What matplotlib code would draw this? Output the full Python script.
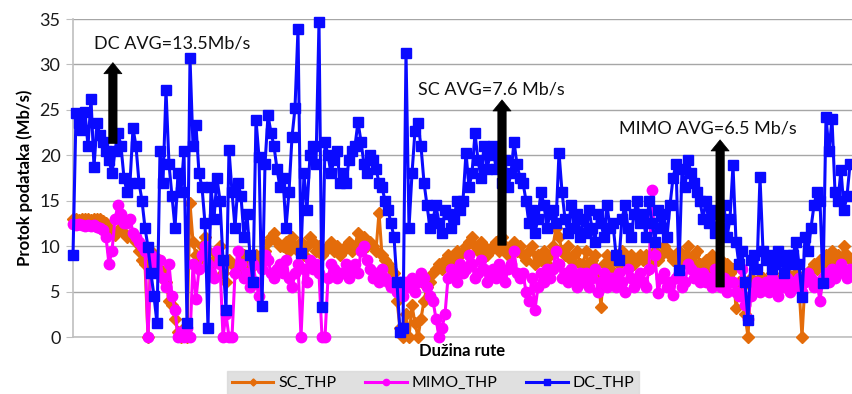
import matplotlib
matplotlib.use("Agg")
import matplotlib.pyplot as plt
import numpy as np

plt.rcParams['font.family'] = ['Lato', 'DejaVu Sans']

dc_thp = [
    9.0, 24.6, 23.5, 22.8, 24.8, 21.0, 26.2, 18.7, 23.5, 22.2,
    21.5, 20.5, 19.5, 18.0, 20.5, 22.5, 21.0, 17.5, 16.0, 17.0,
    23.0, 21.0, 17.0, 15.0, 12.0, 9.9, 7.0, 4.5, 1.5, 20.5,
    17.0, 27.2, 19.0, 15.5, 12.0, 18.0, 16.0, 20.5, 1.5, 30.7,
    21.0, 23.3, 18.0, 16.5, 12.5, 1.0, 16.5, 13.0, 17.5, 15.0,
    8.5, 3.0, 20.6, 16.0, 12.0, 17.0, 15.5, 11.0, 13.5, 9.0,
    6.0, 23.9, 19.8, 3.4, 19.0, 24.4, 22.5, 21.0, 18.5, 16.5,
    17.5, 12.0, 16.0, 22.0, 25.2, 33.9, 9.3, 18.0, 14.0, 20.0,
    21.0, 19.0, 34.7, 3.3, 21.5, 20.0, 18.0, 19.5, 20.5, 17.0,
    18.0, 17.0, 19.5, 20.5, 21.0, 23.7, 21.5, 19.0, 18.0, 20.0,
    19.5, 18.5, 17.0, 16.5, 15.0, 14.0, 12.5, 11.0, 6.0, 0.5,
    1.0, 31.3, 12.0, 18.0, 22.7, 23.5, 21.0, 17.0, 14.5, 12.0,
    13.0, 14.5, 12.5, 11.5, 14.0, 13.5, 12.0, 13.0, 15.0, 14.0,
    15.0, 20.3, 16.5, 18.0, 22.4, 19.5, 17.5, 21.0, 18.5, 20.0,
    21.0, 18.5, 20.0, 17.0, 19.5, 16.5, 18.0, 21.5, 19.0, 17.5,
    17.0, 15.0, 12.5, 14.0, 11.5, 13.0, 16.0, 14.5, 12.0, 13.5,
    14.0, 12.5, 20.3, 16.0, 13.0, 11.5, 14.5, 12.0, 13.5, 11.0,
    13.0, 11.5, 14.0, 12.0, 10.5, 13.5, 12.5, 11.0, 14.5, 12.0,
    12.5, 9.0, 8.5, 13.0, 14.5, 12.0, 11.0, 13.5, 15.0, 12.5,
    13.5, 11.0, 15.0, 12.5, 10.5, 14.0, 12.0, 13.5, 11.0, 14.5,
    17.5, 19.0, 7.4, 18.5, 16.5, 19.5, 18.0, 17.0, 16.0, 15.0,
    13.0, 15.0, 12.5, 14.0, 11.5, 13.5, 12.0, 14.5, 11.0, 13.0,
    18.9, 10.5, 8.0, 9.5, 6.0, 1.9, 8.5, 9.0, 7.5, 17.6,
    9.5, 8.5, 9.0, 7.5, 8.0, 9.5, 8.5, 7.0, 9.0, 8.0,
    9.0, 10.5, 8.0, 4.4, 11.0, 9.5, 12.0, 14.5, 16.0, 15.0,
    5.9, 24.2, 20.5, 24.0, 16.0, 15.0, 18.4, 14.0, 15.5, 19.0,
]

mimo_thp = [
    12.4, 12.3, 12.4, 12.3, 12.2, 12.3, 12.2, 12.3, 12.1, 12.0,
    11.8, 11.0, 8.0, 9.5, 13.0, 14.5, 13.5, 12.5, 12.5, 13.0,
    11.5, 11.0, 10.5, 10.0, 9.5, 0.0, 9.0, 8.0, 7.0, 8.5,
    6.5, 5.5, 8.0, 4.5, 3.0, 0.0, 0.5, 0.0, 1.0, 0.0,
    8.0, 4.2, 7.5, 9.0, 10.0, 8.0, 7.0, 6.5, 9.5, 8.0,
    0.0, 2.5, 0.0, 0.0, 7.0, 9.5, 8.0, 6.5, 7.0, 5.5,
    8.0, 6.0, 4.5, 7.5, 9.0, 8.5, 7.0, 6.5, 7.5, 8.0,
    7.0, 8.5, 6.5, 5.5, 7.0, 8.0, 0.0, 7.5, 6.0, 8.5,
    7.5, 8.0, 7.0, 0.0, 0.0, 6.5, 8.0, 7.5, 6.5, 7.0,
    7.0, 8.0, 6.5, 7.5, 8.0, 7.0, 9.5, 10.0, 8.5, 7.5,
    6.5, 7.0, 6.0, 7.5, 6.5, 6.0, 5.5, 6.0, 5.0, 6.0,
    4.5, 6.0, 5.5, 6.5, 5.0, 6.0, 7.0, 6.5, 5.5, 4.5,
    4.0, 2.0, 0.0, 1.0, 2.5, 6.5, 7.5, 7.0, 6.0, 8.0,
    7.0, 7.5, 9.0, 8.0, 6.5, 7.0, 8.5, 7.5, 6.0, 7.0,
    7.5, 6.5, 8.0, 7.0, 6.0, 7.5, 8.0, 9.5, 7.0, 6.5,
    7.0, 5.0, 4.0, 6.5, 3.0, 5.5, 7.0, 6.0, 7.5, 6.5,
    7.5, 9.5, 8.0, 6.5, 7.0, 6.0, 7.5, 6.5, 5.5, 7.0,
    6.0, 7.0, 5.5, 6.5, 7.5, 5.0, 6.0, 7.0, 5.5, 6.5,
    6.5, 5.5, 7.0, 6.0, 5.0, 7.5, 6.5, 5.5, 6.0, 7.0,
    6.0, 5.5, 7.5, 16.2, 9.0, 4.8, 6.5, 7.0, 5.5, 6.0,
    4.6, 6.5, 7.0, 5.5, 6.0, 8.0, 7.5, 6.5, 7.0, 6.0,
    7.0, 6.0, 6.5, 5.5, 7.5, 6.0, 5.5, 6.5, 5.0, 6.0,
    6.0, 5.0, 4.5, 7.5, 3.5, 2.0, 4.5, 5.5, 6.0, 5.0,
    5.5, 6.0, 5.0, 6.5, 5.5, 4.5, 6.0, 5.5, 6.5, 5.0,
    6.0, 5.5, 6.5, 5.0, 6.0, 7.0, 6.5, 5.5, 6.0, 4.0,
    6.5, 7.0, 6.0, 7.5, 6.5, 7.0, 8.0, 7.0, 6.5, 7.5,
]

sc_thp = [
    13.0, 13.0, 12.9, 13.0, 13.0, 13.0, 12.9, 13.0, 13.0, 13.0,
    12.8, 12.5, 12.0, 11.5, 11.2, 11.8, 12.0, 11.5, 11.0, 11.2,
    11.0, 10.5, 9.5, 8.5, 8.0, 0.0, 9.5, 9.0, 8.5, 7.5,
    7.0, 6.0, 4.0, 3.5, 2.0, 0.5, 0.0, 1.0, 0.0, 14.7,
    10.5, 9.0, 8.5, 10.0, 11.0, 9.5, 8.0, 8.5, 9.0, 10.0,
    7.0, 6.0, 8.5, 8.0, 7.0, 8.0, 7.5, 9.0, 8.0, 7.5,
    8.0, 9.0, 8.0, 8.5, 9.5, 10.5, 11.0, 11.5, 10.5, 10.0,
    10.0, 10.5, 9.5, 11.0, 10.0, 9.5, 10.5, 9.0, 10.0, 11.0,
    10.5, 9.5, 10.0, 9.0, 9.5, 10.0, 10.5, 9.5, 10.0, 9.0,
    9.5, 10.0, 10.5, 9.5, 10.0, 11.5, 10.5, 11.0, 10.0, 10.5,
    10.0, 9.5, 13.7, 9.0, 8.5, 8.0, 7.5, 7.0, 4.0, 1.0,
    0.0, 2.5, 0.0, 3.5, 1.5, 0.0, 2.0, 4.0, 5.5, 6.0,
    7.0, 7.5, 8.0, 7.5, 8.5, 9.0, 8.0, 8.5, 9.5, 9.0,
    9.5, 10.0, 10.5, 11.0, 10.0, 9.5, 10.5, 10.0, 9.0, 9.5,
    10.0, 10.5, 9.5, 11.0, 10.0, 9.0, 10.0, 10.5, 9.5, 10.0,
    9.0, 8.5, 9.5, 10.0, 8.0, 9.0, 8.5, 9.5, 8.0, 9.0,
    10.0, 12.0, 11.0, 9.5, 9.0, 10.0, 8.5, 9.0, 9.5, 8.0,
    8.0, 9.5, 7.5, 8.5, 9.0, 7.0, 3.3, 8.0, 9.0, 7.5,
    8.5, 9.0, 8.0, 9.5, 8.5, 7.5, 9.0, 8.0, 8.5, 9.0,
    8.5, 9.0, 7.5, 8.0, 9.5, 8.5, 9.0, 10.0, 9.5, 9.0,
    8.5, 9.0, 9.5, 8.0, 9.0, 10.0, 8.5, 9.0, 9.5, 8.0,
    8.0, 8.5, 7.5, 9.0, 8.0, 7.0, 8.5, 7.5, 8.0, 7.0,
    7.5, 3.2, 6.0, 5.5, 2.5, 0.0, 6.5, 5.0, 6.0, 6.5,
    6.5, 6.0, 5.5, 7.0, 6.0, 5.5, 6.5, 6.0, 7.0, 6.5,
    6.5, 7.0, 5.5, 0.0, 6.0, 7.0, 7.5, 8.0, 7.5, 8.5,
    8.0, 9.0, 8.5, 9.5, 8.0, 9.0, 8.5, 10.0, 9.0, 8.5,
]

y_ticks = [0, 5, 10, 15, 20, 25, 30, 35]

# annotations: (text, text_x, text_y, arrow_x, arrow_y0, arrow_y1)
notes = [
    ("DC AVG=13.5Mb/s", 7.0, 32.3, 13.3, 21.3, 30.2),
    ("SC AVG=7.6 Mb/s", 115.0, 27.2, 143.0, 10.1, 26.1),
    ("MIMO AVG=6.5 Mb/s", 182.0, 22.9, 215.7, 5.5, 21.7),
]

x = np.arange(len(dc_thp))

fig = plt.figure(figsize=(8.52, 3.94), dpi=100)
ax = fig.add_axes([73/852, 1-337/394, 1-73/852, (337-19)/394])

c_sc = '#E46C0A'
c_mimo = '#FF00FF'
c_dc = '#0A0AFF'

l1, = ax.plot(x, sc_thp, color=c_sc, lw=2.2, marker='D', ms=6, mec=c_sc, mfc=c_sc,
              clip_on=False, zorder=3, label='SC_THP')
l2, = ax.plot(x, mimo_thp, color=c_mimo, lw=2.2, marker='o', ms=7.5, mec=c_mimo, mfc=c_mimo,
              clip_on=False, zorder=4, label='MIMO_THP')
l3, = ax.plot(x, dc_thp, color=c_dc, lw=2.2, marker='s', ms=7, mec=c_dc, mfc=c_dc,
              clip_on=False, zorder=5, label='DC_THP')

ax.set_xlim(0, len(dc_thp) - 1 + 0.67)
ax.set_ylim(0, 35)
ax.set_yticks(y_ticks)
ax.set_xticks([])
ax.yaxis.grid(True, color='#a6a6a6', lw=1.0)
ax.set_axisbelow(True)
for s in ['top', 'right']:
    ax.spines[s].set_visible(False)
ax.spines['left'].set_color('#bfbfbf')
ax.spines['left'].set_linewidth(1.2)
ax.spines['bottom'].set_color('#bfbfbf')
ax.spines['bottom'].set_linewidth(1.2)
ax.tick_params(axis='y', length=5, color='#bfbfbf', labelsize=13, pad=4, labelcolor='#1a1a1a')

ax.set_ylabel('Protok podataka (Mb/s)', fontsize=12, fontweight='bold', labelpad=5)
ax.set_xlabel('Dužina rute', fontsize=12, fontweight='bold', labelpad=4)

for txt, tx, ty, axx, ay0, ay1 in notes:
    ax.text(tx, ty, txt, fontsize=13, color='#111111', va='center', ha='left', zorder=7)
    ax.annotate('', xy=(axx, ay1), xytext=(axx, ay0),
                arrowprops=dict(arrowstyle='simple,head_width=1.3,head_length=0.8,tail_width=0.6',
                                color='black', lw=0.5, shrinkA=0, shrinkB=0),
                zorder=8)

leg = fig.legend(handles=[l1, l2, l3], loc='center', bbox_to_anchor=(433/852, 1-383/394),
                 ncol=3, frameon=True, fancybox=False, facecolor='#d9d9d9', edgecolor='#d9d9d9',
                 fontsize=11.5, handlelength=2.6, columnspacing=1.8, markerscale=0.6,
                 borderpad=0.3, handletextpad=0.3)

fig.savefig('out.png', dpi=100)
